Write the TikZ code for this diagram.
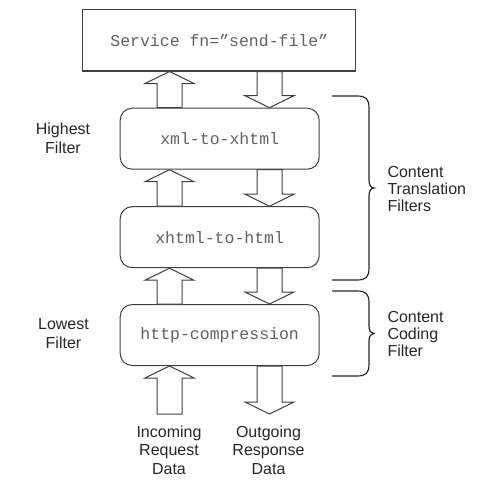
\documentclass[tikz,border=0pt]{standalone}
\usepackage{fontspec}
\setmainfont{Liberation Sans}
\newfontfamily\monof{Liberation Mono}
\colorlet{ln}{black!75}
\newcommand\upblk[2]{% #1 lower point, #2 upper point
  \draw[blk] let \p1=(#1), \p2=(#2) in
    (169.5pt,\y2) -- (194pt,\y2-12pt) -- (182pt,\y2-12pt) -- (182pt,\y1)
    -- (157pt,\y1) -- (157pt,\y2-12pt) -- (145pt,\y2-12pt) -- cycle;}
\newcommand\dnblk[2]{% #1 lower point, #2 upper point
  \draw[blk] let \p1=(#1), \p2=(#2) in
    (269.5pt,\y1) -- (294pt,\y1+12pt) -- (282pt,\y1+12pt) -- (282pt,\y2)
    -- (257pt,\y2) -- (257pt,\y1+12pt) -- (245pt,\y1+12pt) -- cycle;}
\usetikzlibrary{calc}
\begin{document}
\begin{tikzpicture}[x=1pt,y=-1pt,line width=1pt,
  flt/.style={draw=ln, rounded corners=12pt, minimum width=199pt,
    minimum height=61pt, inner sep=0pt,
    font=\monof\fontsize{16.5}{18}\selectfont, text=black!62},
  svcbox/.style={draw=ln, minimum width=273.3pt, minimum height=61pt,
    inner sep=0pt, font=\monof\fontsize{16.5}{18}\selectfont, text=black!62},
  lbl/.style={font=\fontsize{16}{18.5}\selectfont, align=center,
    inner sep=0pt, text=black!85},
  rlbl/.style={font=\fontsize{16}{17}\selectfont, align=left,
    inner sep=0pt, anchor=west, text=black!85},
  blk/.style={draw=ln, fill=white, line join=miter},
  brc/.style={draw=black!85, line width=1.2pt}]
\useasboundingbox (0,0) rectangle (477,487);

\node[svcbox] (svc) at (219.3,40.5) {Service fn=\char"201D send-file\char"201D};
\node[flt] (b1) at (219.7,138.7) {xml-to-xhtml};
\node[flt] (b2) at (219.7,237.2) {xhtml-to-html};
\node[flt] (b3) at (219.7,335) {http-compression};
\coordinate (bot) at (219.7,414);

\upblk{b1.north}{svc.south}
\dnblk{b1.north}{svc.south}
\upblk{b2.north}{b1.south}
\dnblk{b2.north}{b1.south}
\upblk{b3.north}{b2.south}
\dnblk{b3.north}{b2.south}
\upblk{bot}{b3.south}
\dnblk{bot}{b3.south}

\node[lbl] (hi) at (63,138.5) {Highest\\Filter};
\node[lbl] (lo) at (63.5,333.5) {Lowest\\Filter};
\node[lbl] (inc) at (169,450) {Incoming\\Request\\Data};
\node[lbl] (out) at (268.5,450) {Outgoing\\Response\\Data};
\node[rlbl] (ctf) at (387,189) {Content\\Translation\\Filters};
\node[rlbl] (ccf) at (387,334) {Content\\Coding\\Filter};

\coordinate (t1) at (374,188);
\coordinate (t2) at (374,333.5);
\draw[brc] (332,96) -- (357,96) .. controls (366,96) and (369,99) .. (369,108)
  -- (369,180) .. controls (369,185) and (371,188) .. (t1)
  .. controls (371,188) and (369,191) .. (369,196)
  -- (369,268) .. controls (369,277) and (366,280) .. (357,280) -- (332,280);
\draw[brc] (332,291) -- (357,291) .. controls (366,291) and (369,294) .. (369,303)
  -- (369,326) .. controls (369,331) and (371,333.5) .. (t2)
  .. controls (371,333.5) and (369,336) .. (369,341)
  -- (369,364) .. controls (369,373) and (366,376) .. (357,376) -- (332,376);
\end{tikzpicture}
\end{document}
